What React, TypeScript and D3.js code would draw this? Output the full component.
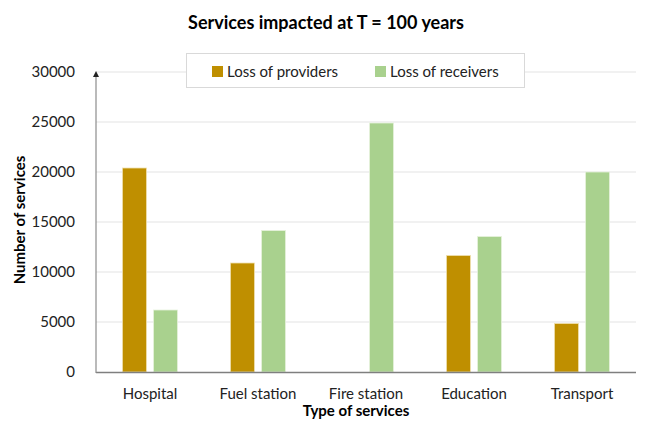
import React, { useRef, useEffect } from 'react';
import * as d3 from 'd3';

const categories = ['Hospital', 'Fuel station', 'Fire station', 'Education', 'Transport'];
const providers = [20400, 10900, 0, 11650, 4850];
const receivers = [6200, 14150, 24900, 13550, 20000];
const seriesNames = ['Loss of providers', 'Loss of receivers'];
const yTicks = [0, 5000, 10000, 15000, 20000, 25000, 30000];

const colors = ['#BF8F00', '#A9D18E'];
const font = 'Lato, "Open Sans", sans-serif';

const App = () => {
    const svgRef = useRef<SVGSVGElement>(null);

    useEffect(() => {
        const width = 651;
        const height = 427;
        const margin = { top: 72, right: 15, bottom: 55, left: 96 };

        d3.select(svgRef.current).selectAll('*').remove();

        const svg = d3.select(svgRef.current)
            .attr('width', width)
            .attr('height', height);

        const x0 = d3.scaleBand()
            .domain(categories)
            .range([margin.left, width - margin.right])
            .paddingInner(0.49)
            .paddingOuter(0.245);

        const x1 = d3.scaleBand()
            .domain(seriesNames)
            .range([0, x0.bandwidth()])
            .paddingInner(0.226);

        const y = d3.scaleLinear()
            .domain([0, 30000])
            .range([height - margin.bottom, margin.top]);

        // gridlines
        svg.append('g')
            .selectAll('line')
            .data(yTicks.slice(1))
            .enter()
            .append('line')
            .attr('x1', margin.left)
            .attr('x2', width - margin.right)
            .attr('y1', (d) => y(d))
            .attr('y2', (d) => y(d))
            .attr('stroke', '#e3e3e3')
            .attr('stroke-width', 1);

        // y tick labels
        svg.append('g')
            .selectAll('text')
            .data(yTicks)
            .enter()
            .append('text')
            .attr('x', 75)
            .attr('y', (d) => y(d))
            .attr('dy', '0.35em')
            .attr('text-anchor', 'end')
            .attr('font-family', font)
            .attr('font-size', 15)
            .attr('fill', '#222')
            .text((d) => String(d));

        // bars
        const rows = categories.map((c, i) => ({ c, vals: [providers[i], receivers[i]] }));
        const groups = svg.append('g')
            .selectAll('g')
            .data(rows)
            .enter()
            .append('g')
            .attr('transform', (d) => `translate(${x0(d.c)},0)`);

        groups.selectAll('rect')
            .data((d) => d.vals.map((v, j) => ({ v, j })))
            .enter()
            .append('rect')
            .filter((d) => d.v > 0)
            .attr('x', (d) => x1(seriesNames[d.j]) as number)
            .attr('y', (d) => y(d.v))
            .attr('width', x1.bandwidth())
            .attr('height', (d) => y(0) - y(d.v))
            .attr('fill', (d) => colors[d.j])
            .attr('stroke', (d) => (d.j === 0 ? '#efe0b0' : '#e6f2dc'))
            .attr('stroke-width', 0.8);

        // x axis line
        svg.append('line')
            .attr('x1', margin.left)
            .attr('x2', width - margin.right)
            .attr('y1', y(0) + 0.5)
            .attr('y2', y(0) + 0.5)
            .attr('stroke', '#7f7f7f')
            .attr('stroke-width', 1.5);

        // y axis line with arrow
        svg.append('defs')
            .append('marker')
            .attr('id', 'arrow')
            .attr('viewBox', '0 0 10 10')
            .attr('refX', 5)
            .attr('refY', 5)
            .attr('markerWidth', 5)
            .attr('markerHeight', 5)
            .attr('orient', 'auto')
            .append('path')
            .attr('d', 'M0,0 L10,5 L0,10 z')
            .attr('fill', '#222');

        svg.append('line')
            .attr('x1', margin.left)
            .attr('x2', margin.left)
            .attr('y1', y(0) + 1)
            .attr('y2', y(30000) + 2)
            .attr('stroke', '#8c8c8c')
            .attr('stroke-width', 1.2)
            .attr('marker-end', 'url(#arrow)');

        // category labels
        svg.append('g')
            .selectAll('text')
            .data(categories)
            .enter()
            .append('text')
            .attr('x', (d) => (x0(d) as number) + x0.bandwidth() / 2)
            .attr('y', 399)
            .attr('text-anchor', 'middle')
            .attr('font-family', font)
            .attr('font-size', 15)
            .attr('fill', '#222')
            .text((d) => d);

        // axis titles
        svg.append('text')
            .attr('x', 356)
            .attr('y', 416)
            .attr('text-anchor', 'middle')
            .attr('font-family', font)
            .attr('font-weight', 'bold')
            .attr('font-size', 15)
            .attr('fill', '#000')
            .text('Type of services');

        svg.append('text')
            .attr('transform', 'translate(25,220) rotate(-90)')
            .attr('text-anchor', 'middle')
            .attr('font-family', font)
            .attr('font-weight', 'bold')
            .attr('font-size', 15)
            .attr('fill', '#000')
            .text('Number of services');

        // title
        svg.append('text')
            .attr('x', 326)
            .attr('y', 29)
            .attr('text-anchor', 'middle')
            .attr('font-family', font)
            .attr('font-weight', 'bold')
            .attr('font-size', 18)
            .attr('fill', '#000')
            .text('Services impacted at T = 100 years');

        // legend
        const legend = svg.append('g');
        legend.append('rect')
            .attr('x', 186.5)
            .attr('y', 53.5)
            .attr('width', 338)
            .attr('height', 34)
            .attr('fill', '#fff')
            .attr('stroke', '#d9d9d9');

        const items = legend.selectAll('g.item')
            .data(seriesNames)
            .enter()
            .append('g')
            .attr('class', 'item')
            .attr('transform', (d, i) => `translate(${i === 0 ? 212 : 375},0)`);

        items.append('rect')
            .attr('x', 0)
            .attr('y', 66)
            .attr('width', 11)
            .attr('height', 11)
            .attr('fill', (d, i) => colors[i]);

        items.append('text')
            .attr('x', 15)
            .attr('y', 71.5)
            .attr('dy', '0.35em')
            .attr('font-family', font)
            .attr('font-size', 15)
            .attr('fill', '#222')
            .text((d) => d);
    }, []);

    return (
        <svg ref={svgRef} style={{ position: 'absolute', left: 0, top: 0 }}></svg>
    );
};

export default App;
